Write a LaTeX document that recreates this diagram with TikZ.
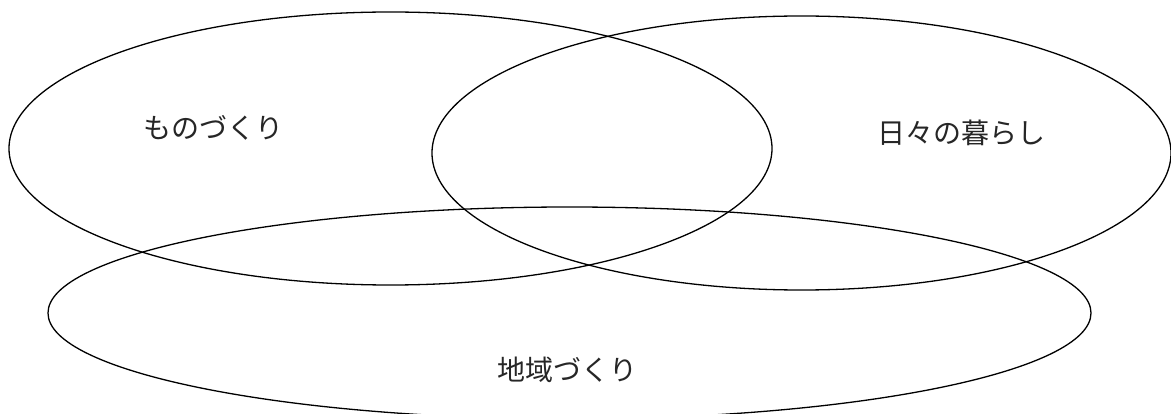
\documentclass[tikz,border=0pt]{standalone}
\usepackage{fontspec}
\newfontfamily\jpfont{Noto Sans CJK JP}
\usetikzlibrary{shapes.geometric, positioning}

\begin{document}
\begin{tikzpicture}[
    x=1pt, y=-1pt,
    field/.style={
      ellipse,
      draw=black,
      line width=1.3pt,
      inner sep=0pt
    },
    label/.style={
      font=\jpfont\fontsize{28}{30}\selectfont,
      text=black!85
    }
  ]
    \useasboundingbox (0,0) rectangle (1171,414);

    % Circles
    \node (mono) [field, minimum width=763pt, minimum height=273pt] at (390.5,148.5) {};
    \node (kurashi) [field, minimum width=739pt, minimum height=274pt] at (801.5,153) {};
    \node (chiiki) [field, minimum width=1043pt, minimum height=212pt] at (569.5,313) {};

    % Labels
    \node (monolabel) [label] at (213,128) {ものづくり};
    \node (kurashilabel) [label] at (961,133) {日々の暮らし};
    \node (chiikilabel) [label] at (567,370) {地域づくり};

\end{tikzpicture}
\end{document}
